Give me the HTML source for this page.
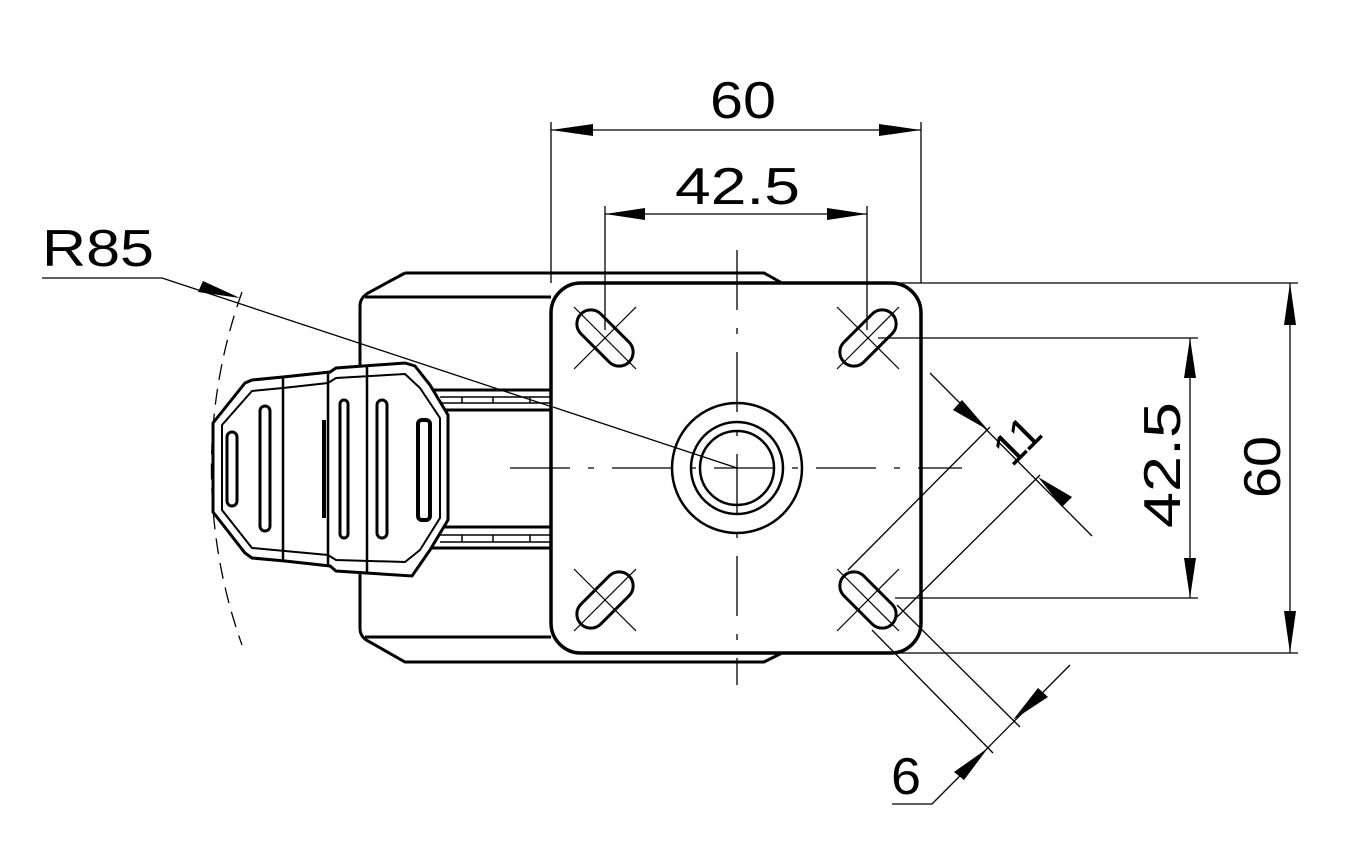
<!DOCTYPE html>
<html><head><meta charset="utf-8"><style>html,body{margin:0;padding:0;background:#fff}svg{display:block}text{font-family:"Liberation Sans",sans-serif;fill:#000;stroke:none}</style></head>
<body>
<svg width="1360" height="867" viewBox="0 0 1360 867" xmlns="http://www.w3.org/2000/svg">
<defs>
<g id="slot1"><rect x="-34" y="-14" width="68" height="28" rx="14" fill="none" stroke="#000" stroke-width="3"/></g>
<g id="cross"><line x1="-31" y1="-31" x2="31" y2="31" stroke="#000" stroke-width="1.2"/><line x1="-31" y1="31" x2="31" y2="-31" stroke="#000" stroke-width="1.2"/></g>
</defs>
<g fill="none" stroke="#000">
<!-- bracket -->
<g stroke-width="3">
<path d="M405 273 L764 273 L782 283"/>
<path d="M405 273 L368 293 Q360 298 360 306 L360 628 Q360 637 368 641 L405 662 L764 662 L782 653"/>
<line x1="365" y1="297" x2="551" y2="297"/>
<line x1="365" y1="637" x2="551" y2="637"/>
<line x1="430" y1="390" x2="551" y2="390"/>
<line x1="430" y1="410" x2="551" y2="410"/>
<line x1="430" y1="527" x2="551" y2="527"/>
<line x1="430" y1="548" x2="551" y2="548"/>
</g>
<g stroke-width="1.5">
<line x1="440" y1="397" x2="551" y2="397"/><line x1="440" y1="403" x2="551" y2="403"/>
<line x1="440" y1="535" x2="551" y2="535"/><line x1="440" y1="542" x2="551" y2="542"/>
<line x1="462" y1="397" x2="462" y2="403"/><line x1="493" y1="397" x2="493" y2="403"/><line x1="530" y1="397" x2="530" y2="403"/>
<line x1="462" y1="535" x2="462" y2="542"/><line x1="493" y1="535" x2="493" y2="542"/><line x1="530" y1="535" x2="530" y2="542"/>
</g>
<line x1="162" y1="278" x2="737" y2="468" stroke-width="1.3"/>
<!-- pedal -->
<path d="M213 423 L245 383 L252 380 L283 377 L330 372 L336 368 L405 363 L415 366 L430 385 L448 415 L448 520 L430 550 L412 576 L336 571 L330 566 L285 561 L252 558 L245 553 L213 512 Z" fill="#fff" stroke-width="3"/>
<path d="M222 425 L252 391 L283 388 L328 383 L336 378 L405 374 L420 388 L440 418 L440 518 L420 550 L405 562 L336 560 L328 555 L285 551 L252 548 L222 510 Z" stroke-width="2"/>
<g stroke-width="2.5">
<line x1="283" y1="377" x2="283" y2="561"/><line x1="328" y1="372" x2="328" y2="566"/><line x1="367" y1="366" x2="367" y2="572"/>
</g>
<rect x="227" y="432" width="10" height="74" rx="5" stroke-width="3"/>
<rect x="260" y="406" width="10" height="125" rx="5" stroke-width="3"/>
<rect x="340" y="400" width="8" height="138" rx="4" stroke-width="3"/>
<rect x="377" y="400" width="10" height="138" rx="5" stroke-width="3"/>
<rect x="418" y="420" width="12" height="100" rx="4" stroke-width="4"/>
<line x1="324" y1="420" x2="324" y2="518" stroke-width="4"/>
<!-- R85 arc -->
<path d="M242 292 A525 525 0 0 0 242 645" stroke-width="1.3" stroke-dasharray="16 9"/>
<line x1="42" y1="278" x2="162" y2="278" stroke-width="1.3"/>
<!-- plate -->
<rect x="551" y="283" width="370" height="370" rx="30" fill="#fff" stroke-width="3.5"/>
<line x1="553" y1="407" x2="737" y2="468" stroke-width="1.3"/>
<circle cx="737" cy="468" r="65" stroke-width="2.5"/>
<circle cx="737" cy="468" r="46" stroke-width="2.5"/>
<circle cx="737" cy="468" r="37" stroke-width="2.5"/>
<line x1="510" y1="468" x2="962" y2="468" stroke-width="1.3" stroke-dasharray="60 18 6 18"/>
<line x1="737" y1="250" x2="737" y2="685" stroke-width="1.3" stroke-dasharray="60 18 6 18"/>
<g transform="translate(605 338) rotate(45)"><use href="#slot1"/></g>
<g transform="translate(868 338) rotate(-45)"><use href="#slot1"/></g>
<g transform="translate(605 600) rotate(-45)"><use href="#slot1"/></g>
<g transform="translate(868 600) rotate(45)"><use href="#slot1"/></g>
<use href="#cross" x="605" y="338"/><use href="#cross" x="868" y="338"/><use href="#cross" x="605" y="600"/><use href="#cross" x="868" y="600"/>
<!-- dims -->
<g stroke-width="1.3">
<line x1="551" y1="122" x2="551" y2="283"/><line x1="921" y1="122" x2="921" y2="283"/>
<line x1="551" y1="130" x2="921" y2="130"/>
<line x1="605" y1="206" x2="605" y2="330"/><line x1="867" y1="206" x2="867" y2="330"/>
<line x1="605" y1="214" x2="867" y2="214"/>
<line x1="900" y1="283" x2="1298" y2="283"/><line x1="890" y1="653" x2="1298" y2="653"/>
<line x1="1290" y1="283" x2="1290" y2="653"/>
<line x1="878" y1="338" x2="1198" y2="338"/><line x1="895" y1="598" x2="1198" y2="598"/>
<line x1="1190" y1="338" x2="1190" y2="598"/>
<line x1="848" y1="570" x2="990" y2="427"/><line x1="897" y1="617" x2="1040" y2="475"/>
<line x1="930" y1="373" x2="1092" y2="536"/>
<line x1="872" y1="630" x2="993" y2="753"/><line x1="897" y1="605" x2="1020" y2="727"/>
<line x1="1070" y1="665" x2="932" y2="804"/><line x1="932" y1="804" x2="892" y2="804"/>
</g>
</g>
<g fill="#000">
<polygon points="551,130 593,124 593,136"/><polygon points="921,130 879,124 879,136"/>
<polygon points="605,214 645,208 645,220"/><polygon points="867,214 827,208 827,220"/>
<polygon points="1290,283 1284,325 1296,325"/><polygon points="1290,653 1284,611 1296,611"/>
<polygon points="1190,338 1184,378 1196,378"/><polygon points="1190,598 1184,558 1196,558"/>
<polygon points="240,298 198,292 203,281"/>
<polygon points="988,430 953,410 962,400"/><polygon points="1038,477 1072,497 1062,507"/>
<polygon points="1013,720 1038,688 1048,697"/><polygon points="988,748 964,780 954,772"/>
</g>
<g font-size="52" font-weight="normal">
<text x="710" y="118" textLength="66" lengthAdjust="spacingAndGlyphs">60</text>
<text x="675" y="204" textLength="125" lengthAdjust="spacingAndGlyphs">42.5</text>
<text x="42" y="266" textLength="112" lengthAdjust="spacingAndGlyphs">R85</text>
<text transform="translate(1280 498) rotate(-90)" textLength="62" lengthAdjust="spacingAndGlyphs">60</text>
<text transform="translate(1180 528) rotate(-90)" textLength="126" lengthAdjust="spacingAndGlyphs">42.5</text>
<text transform="translate(1012 468) rotate(-45)" font-size="46" textLength="46" lengthAdjust="spacingAndGlyphs">11</text>
<text x="891" y="794" textLength="30" lengthAdjust="spacingAndGlyphs">6</text>
</g>
</svg>
</body></html>
